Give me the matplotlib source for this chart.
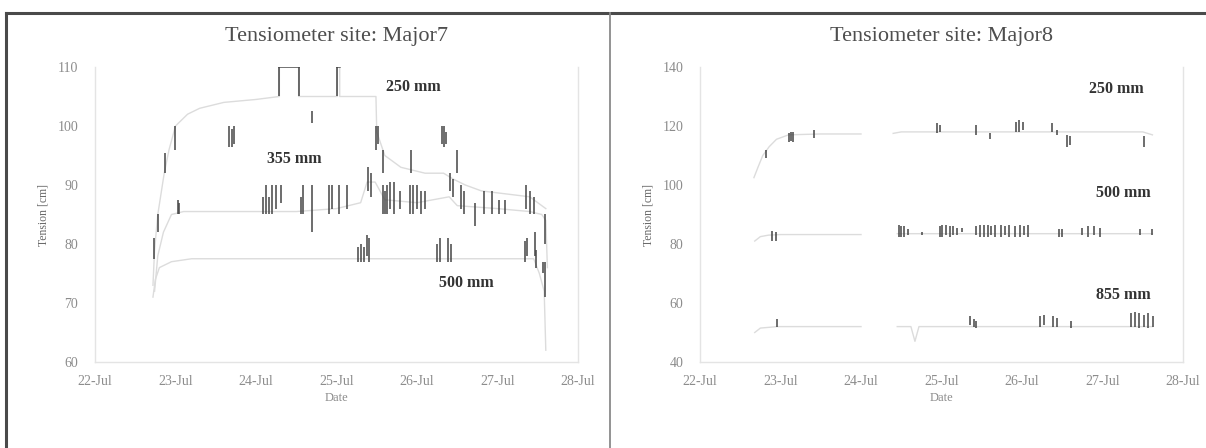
import numpy as np
import matplotlib
matplotlib.use("Agg")
import matplotlib.pyplot as plt
from matplotlib.lines import Line2D

plt.rcParams["font.family"] = ["Liberation Serif", "DejaVu Serif"]

# Time axis: days after 22-Jul 00:00
date_ticks = [0, 1, 2, 3, 4, 5, 6]
date_labels = ["22-Jul", "23-Jul", "24-Jul", "25-Jul", "26-Jul", "27-Jul", "28-Jul"]
GAP = np.nan

# ---------------- Major7 ----------------
m7_250_t = [0.72, 0.74, 0.78, 0.86, 0.92, 1.00, 1.15, 1.30, 1.60, 2.00, 2.29, 2.29, 2.53, 2.53,
            2.75, 3.01, 3.01, 3.04, 3.04, 3.49, 3.50, 3.60, 3.80, 4.10, 4.33, 4.45, 4.60, 4.80,
            5.10, 5.40, 5.60]
m7_250_v = [73, 79, 85, 92, 96, 100, 102, 103, 104, 104.5, 105, 110, 110, 105,
            105, 105, 110, 110, 105, 105, 99, 95, 93, 92, 92, 91, 90, 89,
            88.5, 88, 86]
m7_250_spk_t = [0.735, 0.78, 0.87, 0.99, 1.67, 1.70, 1.73, 2.29, 2.53, 2.70, 3.01, 3.49, 3.51,
                3.58, 3.93, 4.31, 4.34, 4.36, 4.50]
m7_250_spk_lo = [77.5, 82, 92, 96, 96.5, 96.5, 97, 105, 105, 100.5, 105, 96, 97, 92, 92, 97, 96.5, 97, 92]
m7_250_spk_hi = [81, 85, 95.5, 100, 100, 99.5, 100, 110, 110, 102.5, 110, 100, 100, 96, 96, 100, 100, 99, 96]

m7_355_t = [0.74, 0.78, 0.85, 0.95, 1.10, 1.50, 2.00, 2.50, 3.00, 3.30, 3.38, 3.48, 3.60, 4.00,
            4.40, 4.50, 5.00, 5.40, 5.55, 5.60, 5.62]
m7_355_v = [72, 78, 82, 85, 85.5, 85.5, 85.5, 85.5, 86, 87, 90.5, 90.5, 87.5, 87,
            88, 86.5, 86, 85.5, 85, 84, 76]
m7_355_spk_t = [1.03, 1.04, 2.09, 2.12, 2.16, 2.20, 2.25, 2.31, 2.56, 2.59, 2.70, 2.91, 2.94, 3.03,
                3.13, 3.39, 3.43, 3.58, 3.60, 3.63, 3.67, 3.71, 3.79, 3.91, 3.95, 4.00, 4.05,
                4.10, 4.41, 4.45, 4.55, 4.58, 4.72, 4.83, 4.93, 5.02, 5.09, 5.36, 5.40, 5.45, 5.59]
m7_355_spk_lo = [85, 85, 85, 85, 85, 85, 86, 87, 85, 85, 82, 85, 86, 85,
                 86, 89, 88, 85, 85, 85, 86, 85, 86, 85, 85, 86, 85,
                 86, 89, 88, 86, 85, 83, 85, 85, 85, 85, 86, 85, 85, 80]
m7_355_spk_hi = [87.5, 87, 88, 90, 88, 90, 90, 90, 88, 90, 90, 90, 90, 90,
                 90, 93, 92, 90, 89, 90, 90.5, 90.5, 89, 90, 90, 90, 89,
                 89, 92, 91, 90, 89, 87, 89, 89, 87.5, 87.5, 90, 89, 88, 85]

m7_500_t = [0.72, 0.75, 0.80, 0.95, 1.20, 2.00, 3.00, 4.00, 5.00, 5.45, 5.52, 5.58, 5.60]
m7_500_v = [71, 74, 76, 77, 77.5, 77.5, 77.5, 77.5, 77.5, 77.5, 75, 72, 62]
m7_500_spk_t = [3.27, 3.30, 3.34, 3.38, 3.40, 4.25, 4.28, 4.38, 4.42, 5.34, 5.37, 5.46, 5.48, 5.56, 5.59]
m7_500_spk_lo = [77, 77, 77, 78, 77, 77, 77, 77, 77, 77, 78, 78, 76, 75, 71]
m7_500_spk_hi = [79.5, 80, 79.5, 81.5, 81, 80, 81, 81, 80, 80.5, 81, 82, 79, 77, 77]

# ---------------- Major8 (logger gap on 24-Jul) ----------------
m8_250_t = [0.67, 0.72, 0.78, 0.86, 0.95, 1.10, 1.50, 2.00, 2.20, 2.40, 2.50, 3.00, 3.50, 4.00,
            4.50, 5.00, 5.50, 5.62]
m8_250_v = [102.5, 106, 110, 113, 115.5, 117, 117.3, 117.3, GAP, 117.5, 118, 118, 118, 118,
            118, 118, 118, 117]
m8_250_spk_t = [0.82, 1.10, 1.13, 1.15, 1.42, 2.95, 2.98, 3.43, 3.60, 3.93, 3.96, 4.01, 4.37,
                4.43, 4.56, 4.60, 5.52]
m8_250_spk_lo = [109, 114.5, 115, 114.5, 116, 117.5, 118, 117, 115.5, 118, 118, 118.5, 118,
                 117, 113, 113.5, 113]
m8_250_spk_hi = [112, 117.5, 118, 118, 118.5, 121, 120.5, 120.5, 117.5, 121.5, 122, 121.5, 121,
                 118.5, 117, 116.5, 116.5]

m8_500_t = [0.68, 0.75, 0.85, 1.00, 2.00, 2.20, 2.45, 3.00, 4.00, 5.00, 5.62]
m8_500_v = [81, 82.5, 83, 83.2, 83.2, GAP, 83.5, 83.5, 83.5, 83.5, 83.5]
m8_500_spk_t = [0.89, 0.95, 2.47, 2.50, 2.54, 2.59, 2.76, 2.98, 3.01, 3.05, 3.10, 3.14, 3.19,
                3.26, 3.43, 3.48, 3.53, 3.58, 3.62, 3.67, 3.74, 3.79, 3.84, 3.91, 3.98, 4.03,
                4.08, 4.46, 4.50, 4.75, 4.82, 4.90, 4.97, 5.47, 5.62]
m8_500_spk_lo = [81, 81, 82.5, 82.5, 82.5, 83, 83, 82.5, 82.5, 83, 82.5, 83, 83,
                 84, 83, 82.5, 82.5, 82.5, 83, 82.5, 82.5, 83, 82.5, 82.5, 82.5, 83,
                 82.5, 82.5, 82.5, 83, 82.5, 83, 82.5, 83, 83]
m8_500_spk_hi = [84.5, 84, 86.5, 86, 86, 85, 84, 86, 86.5, 86.5, 86, 86, 85.5,
                 85.5, 86, 86.5, 86.5, 86.5, 86, 86.5, 86.5, 86, 86.5, 86, 86.5, 86,
                 86.5, 85, 85, 85.5, 86, 86, 85.5, 85, 85]

m8_855_t = [0.68, 0.75, 0.96, 1.50, 2.00, 2.20, 2.45, 2.62, 2.67, 2.72, 3.00, 3.50, 4.00, 4.50,
            5.00, 5.62]
m8_855_v = [50, 51.5, 52, 52, 52, GAP, 52, 52, 47, 52, 52, 52, 52, 52, 52, 52]
m8_855_spk_t = [0.96, 3.36, 3.40, 3.43, 4.22, 4.27, 4.39, 4.44, 4.61, 5.35, 5.40, 5.45, 5.52, 5.57, 5.63]
m8_855_spk_lo = [52, 52.5, 52, 51.5, 52, 52.5, 52, 52, 51.5, 52, 52, 51.5, 52, 51.5, 52]
m8_855_spk_hi = [54.5, 55.5, 54.5, 54, 55.5, 56, 55.5, 55, 54, 56.5, 57, 56.5, 56, 56.5, 55.5]

m7_ticks = [60, 70, 80, 90, 100, 110]
m8_ticks = [40, 60, 80, 100, 120, 140]

m7_labels = [("250 mm", 3.95, 106.6), ("355 mm", 2.48, 94.4), ("500 mm", 4.61, 73.4)]
m8_labels = [("250 mm", 5.17, 132.6), ("500 mm", 5.26, 97.4), ("855 mm", 5.26, 62.7)]

BASE_C = "#dcdcdc"
SPIKE_C = "#454545"
TEXT_C = "#8c8c8c"

W, H = 1206, 448
fig = plt.figure(figsize=(W / 100, H / 100), dpi=100)
fig.patch.set_facecolor("white")


def px_axes(x0, x1, y_top, y_bot):
    return fig.add_axes([x0 / W, 1 - y_bot / H, (x1 - x0) / W, (y_bot - y_top) / H])


def draw_panel(ax, series, ticks, labels, title):
    for t, v, st, slo, shi in series:
        t = np.asarray(t)
        v = np.asarray(v, dtype=float)
        ax.plot(t, v, color=BASE_C, lw=1.0, zorder=2)
        # readings held at the top of the scale show up dark
        cap = np.ma.masked_where(~(v >= ticks[-1]), v)
        ax.plot(t, cap, color="#555555", lw=1.1, zorder=3)
        ax.vlines(st, slo, shi, color=SPIKE_C, lw=1.1, zorder=4)
    for txt, x, y in labels:
        ax.text(x, y, txt, ha="center", va="center", fontsize=11.5,
                fontweight="bold", color="#333333", zorder=5)
    ax.set_xlim(0, 6)
    ax.set_ylim(ticks[0], ticks[-1])
    ax.set_xticks(date_ticks)
    ax.set_xticklabels(date_labels)
    ax.set_yticks(ticks)
    ax.set_yticklabels([str(v) for v in ticks])
    ax.tick_params(length=0, labelsize=10, labelcolor=TEXT_C)
    ax.tick_params(axis="y", pad=12)
    ax.tick_params(axis="x", pad=9)
    for side in ("left", "bottom", "right"):
        ax.spines[side].set_color("#e4e4e4")
        ax.spines[side].set_linewidth(1.0)
    ax.spines["top"].set_visible(False)
    ax.set_xlabel("Date", fontsize=9, color=TEXT_C, labelpad=3)
    ax.set_ylabel("Tension [cm]", fontsize=8.5, color="#6a6a6a", labelpad=6)
    ax.set_title(title, fontsize=16, color="#4e4e4e", pad=19)


ax1 = px_axes(95, 578, 67, 362)
draw_panel(ax1,
           [(m7_250_t, m7_250_v, m7_250_spk_t, m7_250_spk_lo, m7_250_spk_hi),
            (m7_355_t, m7_355_v, m7_355_spk_t, m7_355_spk_lo, m7_355_spk_hi),
            (m7_500_t, m7_500_v, m7_500_spk_t, m7_500_spk_lo, m7_500_spk_hi)],
           m7_ticks, m7_labels, "Tensiometer site: Major7")

ax2 = px_axes(700, 1183, 67, 362)
draw_panel(ax2,
           [(m8_250_t, m8_250_v, m8_250_spk_t, m8_250_spk_lo, m8_250_spk_hi),
            (m8_500_t, m8_500_v, m8_500_spk_t, m8_500_spk_lo, m8_500_spk_hi),
            (m8_855_t, m8_855_v, m8_855_spk_t, m8_855_spk_lo, m8_855_spk_hi)],
           m8_ticks, m8_labels, "Tensiometer site: Major8")

# page frame around the two panels
top_y = 1 - 13 / H
fig.add_artist(Line2D([6 / W, 1], [top_y, top_y], color="#4a4a4a", lw=2.2))
fig.add_artist(Line2D([6 / W, 6 / W], [0, top_y], color="#4a4a4a", lw=2.2))
fig.add_artist(Line2D([610 / W, 610 / W], [0, top_y], color="#8a8a8a", lw=1.3))

fig.savefig("out.png", dpi=100, facecolor="white")
